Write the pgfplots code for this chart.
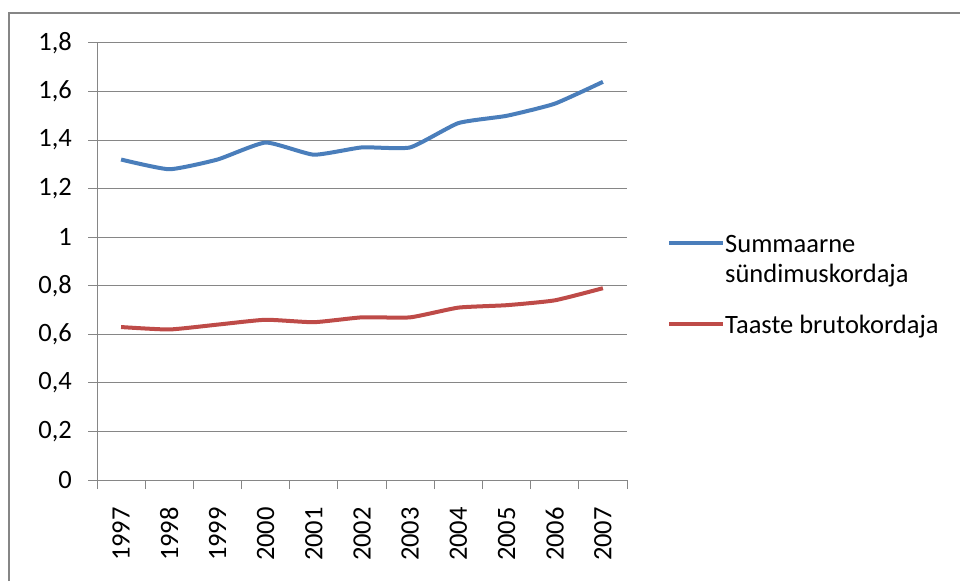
\documentclass[border=0pt]{standalone}
\usepackage{pgfplots}
\pgfplotsset{compat=1.18}
\usepackage{fontspec}
\setmainfont{Carlito}
\definecolor{sblue}{HTML}{4A7EBB}
\definecolor{sred}{HTML}{BE4B48}
\definecolor{ggray}{HTML}{868686}
\newcommand{\lblfont}{\fontsize{26.5pt}{32pt}\selectfont}
\begin{document}
\begin{tikzpicture}
\useasboundingbox (0,0) rectangle (960pt,581pt);
\draw[ggray, line width=2pt] (9pt,0pt) -- (9pt,568pt) -- (960pt,568pt);
\begin{axis}[
  at={(97pt,101pt)}, anchor=south west,
  scale only axis, width=530pt, height=437pt,
  xmin=-0.5, xmax=10.5, ymin=0, ymax=1.8,
  axis x line*=bottom, axis y line*=left,
  axis line style={ggray, line width=1pt},
  tick align=outside,
  major tick length=9pt,
  tick style={ggray, line width=1pt},
  xtick={-0.5,0.5,1.5,2.5,3.5,4.5,5.5,6.5,7.5,8.5,9.5,10.5},
  xticklabels={},
  extra x ticks={0,1,2,3,4,5,6,7,8,9,10},
  extra x tick labels={1997,1998,1999,2000,2001,2002,2003,2004,2005,2006,2007},
  extra x tick style={major tick length=0pt, grid=none},
  xticklabel style={rotate=90, anchor=east, inner sep=0pt, font=\lblfont, text=black},
  xticklabel shift=27pt,
  ytick={0,0.2,0.4,0.6,0.8,1,1.2,1.4,1.6,1.8},
  yticklabels={0,{0,2},{0,4},{0,6},{0,8},1,{1,2},{1,4},{1,6},{1,8}},
  yticklabel style={anchor=east, inner sep=0pt, font=\lblfont, text=black},
  yticklabel shift=16pt,
  /pgf/number format/assume math mode=true,
  ymajorgrids,
  grid style={ggray, line width=1pt},
  clip=false,
  legend style={at={(axis description cs:1.0755,0.5698)}, anchor=north west,
    draw=none, fill=none, inner sep=0pt, row sep=0pt, column sep=0pt,
    font=\lblfont, nodes={inner sep=0pt, text depth=}},
  legend cell align=left,
  legend image code/.code={\draw[#1] (0pt,3pt) -- (54pt,3pt);},
]
\addplot[sblue, line width=4pt, smooth, tension=0.3] coordinates {
 (0,1.32) (1,1.28) (2,1.32) (3,1.39) (4,1.34) (5,1.37) (6,1.37) (7,1.47) (8,1.50) (9,1.55) (10,1.64)};
\addlegendentry{\rule[-9pt]{0pt}{30pt}Summaarne}
\addlegendimage{empty legend}
\addlegendentry{\rule[-30pt]{0pt}{51pt}sündimuskordaja}
\addplot[sred, line width=4pt, smooth, tension=0.3] coordinates {
 (0,0.63) (1,0.62) (2,0.64) (3,0.66) (4,0.65) (5,0.67) (6,0.67) (7,0.71) (8,0.72) (9,0.74) (10,0.79)};
\addlegendentry{\rule[-9pt]{0pt}{30pt}Taaste brutokordaja}
\end{axis}
\end{tikzpicture}
\end{document}
